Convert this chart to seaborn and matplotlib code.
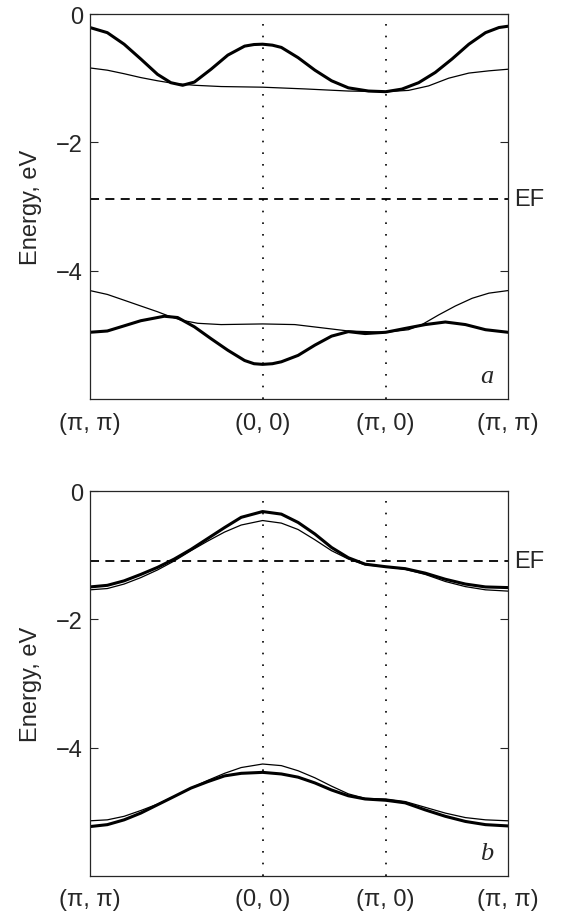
import numpy as np
import pandas as pd
import matplotlib
matplotlib.use("Agg")
import matplotlib.pyplot as plt
import seaborn as sns

sns.set_style("ticks")
plt.rcParams['font.family'] = ['Liberation Sans', 'DejaVu Sans']

# k-path positions (path length in units of pi): (pi,pi) -> (0,0) -> (pi,0) -> (pi,pi)
k_sym = [0.0, 1.414, 2.414, 3.414]
k_sym_labels = ["(π, π)", "(0, 0)", "(π, 0)", "(π, π)"]
y_ticks = [0, -2, -4]

# common k grid used for read-off values
k_grid = [0.0, 0.142, 0.279, 0.415, 0.552, 0.689, 0.825, 0.962, 1.099, 1.235,
          1.410, 1.563, 1.700, 1.837, 1.973, 2.110, 2.247, 2.416, 2.574, 2.738,
          2.902, 3.066, 3.230, 3.414]

# ---- panel a ----
ef_a = -2.875
k_a_up_thick = [0.0, 0.142, 0.279, 0.415, 0.552, 0.661, 0.757, 0.853, 0.989,
                1.126, 1.263, 1.340, 1.410, 1.490, 1.563, 1.700, 1.837, 1.973,
                2.110, 2.274, 2.416, 2.547, 2.684, 2.820, 2.957, 3.094, 3.230,
                3.340, 3.414]
e_a_up_thick = [-0.21, -0.29, -0.47, -0.70, -0.94, -1.07, -1.11, -1.06, -0.86,
                -0.64, -0.50, -0.475, -0.47, -0.485, -0.52, -0.68, -0.875, -1.04,
                -1.15, -1.20, -1.21, -1.17, -1.07, -0.91, -0.70, -0.47, -0.29,
                -0.21, -0.19]
k_a_up_thin = [0.0, 0.142, 0.279, 0.415, 0.552, 0.689, 0.853, 1.071, 1.410,
               1.755, 2.110, 2.416, 2.601, 2.765, 2.929, 3.094, 3.258, 3.414]
e_a_up_thin = [-0.84, -0.875, -0.93, -0.99, -1.04, -1.083, -1.11, -1.13, -1.14,
               -1.167, -1.20, -1.21, -1.19, -1.12, -1.00, -0.92, -0.885, -0.86]
k_a_lo_thin = [0.0, 0.142, 0.279, 0.415, 0.552, 0.634, 0.743, 0.880, 1.071,
               1.410, 1.673, 1.892, 2.110, 2.416, 2.601, 2.711, 2.847, 2.984,
               3.121, 3.258, 3.414]
e_a_lo_thin = [-4.31, -4.37, -4.46, -4.55, -4.64, -4.70, -4.77, -4.82, -4.84,
               -4.83, -4.84, -4.89, -4.94, -4.96, -4.92, -4.84, -4.69, -4.55,
               -4.43, -4.35, -4.31]
k_a_lo_thick = [0.0, 0.142, 0.279, 0.415, 0.607, 0.716, 0.853, 0.989, 1.126,
                1.263, 1.340, 1.410, 1.490, 1.563, 1.700, 1.837, 1.973, 2.110,
                2.247, 2.416, 2.574, 2.738, 2.902, 3.066, 3.230, 3.414]
e_a_lo_thick = [-4.96, -4.94, -4.86, -4.78, -4.71, -4.73, -4.875, -5.06, -5.24,
                -5.40, -5.45, -5.46, -5.45, -5.42, -5.32, -5.16, -5.02, -4.95,
                -4.98, -4.96, -4.90, -4.84, -4.80, -4.84, -4.92, -4.96]

# ---- panel b ----
ef_b = -1.09
e_b_up_thick = [-1.495, -1.47, -1.40, -1.30, -1.19, -1.06, -0.91, -0.74, -0.57,
                -0.41, -0.32, -0.36, -0.49, -0.67, -0.88, -1.04, -1.14, -1.18,
                -1.21, -1.28, -1.375, -1.45, -1.495, -1.505]
e_b_up_thin = [-1.54, -1.52, -1.45, -1.35, -1.23, -1.09, -0.93, -0.78, -0.64,
               -0.53, -0.46, -0.50, -0.60, -0.76, -0.93, -1.06, -1.15, -1.18,
               -1.22, -1.30, -1.41, -1.49, -1.54, -1.56]
e_b_lo_thin = [-5.14, -5.125, -5.07, -4.98, -4.88, -4.76, -4.63, -4.51, -4.40,
               -4.31, -4.255, -4.28, -4.36, -4.47, -4.60, -4.72, -4.79, -4.80,
               -4.84, -4.93, -5.02, -5.09, -5.125, -5.14]
e_b_lo_thick = [-5.23, -5.20, -5.125, -5.02, -4.89, -4.76, -4.63, -4.53, -4.44,
                -4.40, -4.385, -4.41, -4.46, -4.55, -4.66, -4.75, -4.80, -4.82,
                -4.86, -4.97, -5.07, -5.15, -5.20, -5.22]

fig = plt.figure(figsize=(5.62, 9.12), dpi=100)
ax_a = fig.add_axes([0.160, 0.5614, 0.744, 0.4221])
ax_b = fig.add_axes([0.160, 0.0384, 0.744, 0.4221])

THICK = 2.2
THIN = 0.9
FS = 17

def draw_panel(ax, curves, ef, letter):
    for k, e, lw in curves:
        df = pd.DataFrame({"k": k, "E": e})
        sns.lineplot(data=df, x="k", y="E", ax=ax, color="black", linewidth=lw,
                     sort=False, estimator=None, solid_joinstyle="round",
                     solid_capstyle="round")
    ax.axhline(ef, color="black", linewidth=1.3, dashes=(5, 3.5))
    for ks in k_sym[1:3]:
        ax.axvline(ks, color="black", linewidth=1.2, linestyle=(0, (1, 6)))
    ax.set_xlim(k_sym[0], k_sym[-1])
    ax.set_ylim(-6, 0)
    ax.set_yticks(y_ticks)
    ax.set_yticklabels(["0", "\u22122", "\u22124"], fontsize=FS)
    ax.set_xticks(k_sym)
    ax.set_xticklabels(k_sym_labels, fontsize=FS)
    ax.tick_params(axis="y", direction="in", length=6, width=0.8, left=True,
                   right=True, pad=5)
    ax.tick_params(axis="x", length=0, pad=9)
    for s in ax.spines.values():
        s.set_linewidth(0.9)
        s.set_visible(True)
    ax.set_xlabel("")
    ax.set_ylabel("Energy, eV", fontsize=FS, labelpad=10)
    ax.text(1.015, ef, "EF", transform=ax.get_yaxis_transform(), fontsize=FS,
            va="center", ha="left")
    ax.text(0.965, 0.03, letter, transform=ax.transAxes, fontsize=19,
            ha="right", va="bottom", family="Liberation Serif", style="italic")

draw_panel(ax_a, [(k_a_up_thick, e_a_up_thick, THICK),
                  (k_a_up_thin, e_a_up_thin, THIN),
                  (k_a_lo_thin, e_a_lo_thin, THIN),
                  (k_a_lo_thick, e_a_lo_thick, THICK)], ef_a, "a")
draw_panel(ax_b, [(k_grid, e_b_up_thick, THICK),
                  (k_grid, e_b_up_thin, THIN),
                  (k_grid, e_b_lo_thin, THIN),
                  (k_grid, e_b_lo_thick, THICK)], ef_b, "b")

fig.savefig("out.png", dpi=100)
